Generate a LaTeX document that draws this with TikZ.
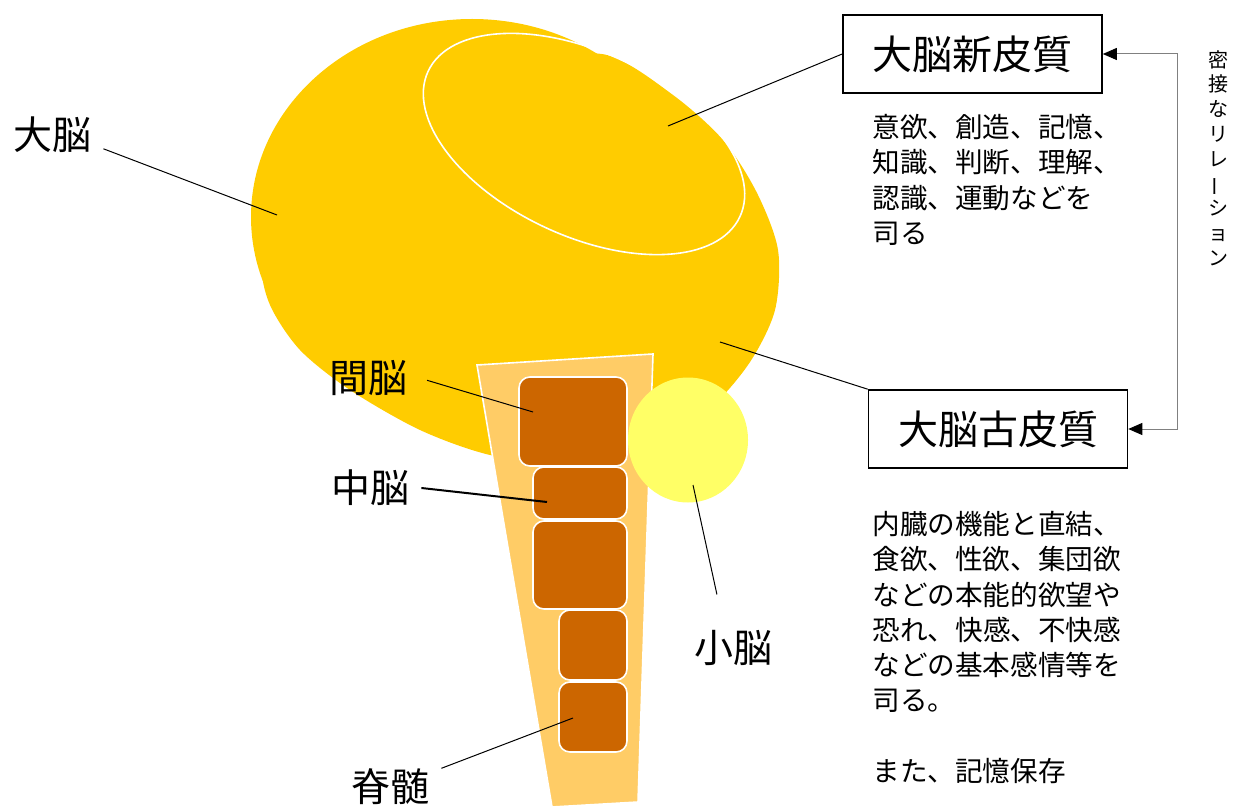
\documentclass[tikz,border=0pt]{standalone}
\usepackage{fontspec}
\usepackage{graphicx}
\usetikzlibrary{arrows.meta}
\newfontfamily\jp{Noto Sans CJK JP}
\definecolor{cerebrum}{HTML}{FFCC00}
\definecolor{stem}{HTML}{FFCC66}
\definecolor{segment}{HTML}{CC6600}
\definecolor{cerebellum}{HTML}{FFFF66}

\begin{document}
\begin{tikzpicture}[x=0.5pt, y=-0.5pt,
		>={Triangle[length=7pt, width=6pt, color=black]},
		leader/.style={draw=black, line width=0.5pt},
		partlabel/.style={font=\jp\fontsize{19.5}{23}\selectfont, inner sep=6pt},
		cortexbox/.style={draw=black, line width=0.8pt, inner sep=0pt,
			font=\jp\fontsize{20}{24}\selectfont,
			minimum width=129.5pt, minimum height=39pt},
		notes/.style={font=\jp\fontsize{13.8}{17.6}\selectfont, align=left,
			anchor=north west, inner sep=0pt},
		segbox/.style={fill=segment, draw=white, line width=0.8pt, rounded corners=5.5pt}]
		\useasboundingbox (0,0) rectangle (1234,807);

		% cerebrum: upper lobe plus the lower, wider lobe
		\fill[cerebrum] (472,217) circle[x radius=221, y radius=198];
		\fill[cerebrum] plot[smooth cycle, tension=0.5] coordinates {
			(607,55) (673,95) (723,140) (757,193) (778,250) (775,310)
			(750,362) (710,408) (650,445) (570,465) (490,455) (420,430)
			(350,390) (300,350) (270,305) (262,262) (280,200) (340,140)
			(440,85) (530,60)};
		\draw[white, line width=0.8pt] (584,144) circle[x radius=172, y radius=92, rotate=-25];

		% brain stem with its segments
		\filldraw[fill=stem, draw=white, line width=0.8pt]
			(477,365) -- (653,354) -- (638,802) -- (552,807) -- cycle;
		\fill[cerebellum] (688,440) circle[x radius=60, y radius=62.5];
		\path[segbox] (519,377) rectangle (627,466);
		\path[segbox] (533,467) rectangle (627,519);
		\path[segbox] (533,521) rectangle (627,609);
		\path[segbox] (559,610) rectangle (627,680);
		\path[segbox] (559,682) rectangle (627,752);

		\coordinate (cr) at (277,215);
		\coordinate (nc) at (668,126);
		\coordinate (pc) at (720,342);
		\coordinate (di) at (533,412);
		\coordinate (mi) at (547,502);
		\coordinate (cb) at (693,485);
		\coordinate (sp) at (573,718);

		\node[partlabel] (l-cr) at (52,135) {大脳};
		\node[partlabel] (l-di) at (368,378) {間脳};
		\node[partlabel] (l-mi) at (370,488) {中脳};
		\node[partlabel] (l-cb) at (733,648) {小脳};
		\node[partlabel] (l-sp) at (390,787) {脊髄};

		\node[cortexbox] (neo) at (972.5,54) {大脳新皮質};
		\node[cortexbox] (paleo) at (998,429) {大脳古皮質};

		\draw[leader] (l-cr.-15) -- (cr);
		\draw[leader, shorten <=4pt] (l-di.east) -- (di);
		\draw[leader, line width=1pt] (l-mi.east) -- (mi);
		\draw[leader, shorten >=12pt] (cb) -- (l-cb.110);
		\draw[leader] (l-sp.20) -- (sp);
		\draw[leader] (nc) -- (neo.west);
		\draw[leader] (pc) -- (paleo.north west);

		% relation between the two cortices
		\coordinate (bend) at (1177,240);
		\draw[<->, draw=gray, line width=0.5pt] (neo.east) -| (bend) |- (paleo.east);
		\node[font=\jp\fontsize{10}{12.4}\selectfont, align=center, inner sep=0pt] (rel)
			at (1218,158) {密\\接\\な\\リ\\レ\\\rotatebox[origin=c]{90}{ー}\\シ\\ョ\\ン};

		\node[notes] (neo-notes) at (872,114)
			{意欲、創造、記憶、\\知識、判断、理解、\\認識、運動などを\\司る};
		\node[notes] (paleo-notes) at (872,511)
			{内臓の機能と直結、\\食欲、性欲、集団欲\\などの本能的欲望や\\恐れ、快感、不快感\\などの基本感情等を\\司る。\\[17.6pt]また、記憶保存};
	\end{tikzpicture}
\end{document}
